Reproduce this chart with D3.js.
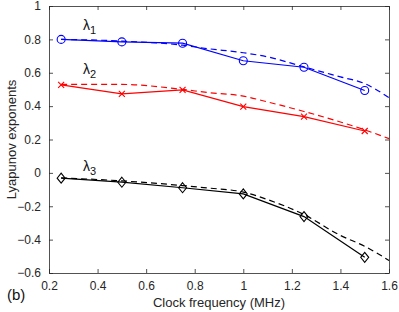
<!DOCTYPE html>
<html>
<head>
<meta charset="utf-8">
<script src="https://cdn.jsdelivr.net/npm/d3@7"></script>
<style>
  body { margin: 0; background: #fff; }
  text { font-family: "Liberation Sans", Arial, sans-serif; }
</style>
</head>
<body>
<div id="chart"></div>
<script>
/* Lyapunov exponents vs clock frequency */

const width = 399,
    height = 312,
    margin = ({ top: 6, right: 10, bottom: 39, left: 49 });

/* measured points (solid lines with markers) */
const freq = [0.25, 0.5, 0.75, 1.0, 1.25, 1.5];
const lambda1 = [0.80, 0.785, 0.777, 0.672, 0.633, 0.494];
const lambda2 = [0.527, 0.473, 0.497, 0.397, 0.337, 0.251];
const lambda3 = [-0.032, -0.056, -0.089, -0.126, -0.262, -0.506];

/* model curves (dashed) */
const freqModel = [0.25, 0.5, 0.75, 0.85, 1.0, 1.1, 1.25, 1.4, 1.5, 1.6];
const lambda1Model = [0.80, 0.79, 0.765, 0.745, 0.72, 0.695, 0.635, 0.575, 0.535, 0.45];
const lambda2Model = [0.53, 0.53, 0.50, 0.482, 0.46, 0.425, 0.368, 0.305, 0.258, 0.205];
const lambda3Model = [-0.03, -0.048, -0.076, -0.09, -0.115, -0.16, -0.25, -0.375, -0.44, -0.525];

const xTicks = [0.2, 0.4, 0.6, 0.8, 1, 1.2, 1.4, 1.6];
const yTicks = [-0.6, -0.4, -0.2, 0, 0.2, 0.4, 0.6, 0.8, 1];

const svg = d3.select("#chart")
    .append("svg")
    .attr("width", width)
    .attr("height", height);

let x = d3.scaleLinear()
    .domain([0.2, 1.6])
    .range([margin.left, width - margin.right]);

let y = d3.scaleLinear()
    .domain([-0.6, 1])
    .range([height - margin.bottom, margin.top]);

const axisColor = "#262626";
const fmt = d => d3.format("")(+d.toFixed(1));

/* bottom + left axes with labels, ticks inside */
const gx = svg.append("g")
    .attr("transform", `translate(0,${height - margin.bottom})`)
    .call(d3.axisBottom(x).tickValues(xTicks).tickSize(-4).tickSizeOuter(0).tickPadding(8).tickFormat(fmt));

const gy = svg.append("g")
    .attr("transform", `translate(${margin.left},0)`)
    .call(d3.axisLeft(y).tickValues(yTicks).tickSize(-4).tickSizeOuter(0).tickPadding(8).tickFormat(fmt));

/* top + right axes, ticks only (box on) */
const gt = svg.append("g")
    .attr("transform", `translate(0,${margin.top})`)
    .call(d3.axisTop(x).tickValues(xTicks).tickSize(-4).tickSizeOuter(0).tickFormat(""));

const gr = svg.append("g")
    .attr("transform", `translate(${width - margin.right},0)`)
    .call(d3.axisRight(y).tickValues(yTicks).tickSize(-4).tickSizeOuter(0).tickFormat(""));

for (let g of [gx, gy, gt, gr]) {
    g.selectAll("path").attr("stroke", axisColor).attr("stroke-width", 0.8);
    g.selectAll("line").attr("stroke", axisColor).attr("stroke-width", 0.8);
    g.selectAll("text").attr("fill", axisColor).attr("font-size", 12);
}

svg.append("text")
    .attr("x", x(0.9))
    .attr("y", height - 5)
    .attr("text-anchor", "middle")
    .attr("font-size", 13)
    .attr("fill", axisColor)
    .text("Clock frequency (MHz)");

svg.append("text")
    .attr("transform", `translate(16,${y(0.2)}) rotate(-90)`)
    .attr("text-anchor", "middle")
    .attr("font-size", 13)
    .attr("fill", axisColor)
    .text("Lyapunov exponents");

svg.append("text")
    .attr("x", 7)
    .attr("y", 300)
    .attr("font-size", 15)
    .attr("fill", "#111")
    .text("(b)");

/* series */
const series = [
    { vals: lambda1, model: lambda1Model, color: "#0000ff", marker: "circle", label: "1", at: 0.856 },
    { vals: lambda2, model: lambda2Model, color: "#ff0000", marker: "cross", label: "2", at: 0.593 },
    { vals: lambda3, model: lambda3Model, color: "#000000", marker: "diamond", label: "3", at: 0.011 }
];

let line = d3.line()
    .x(d => x(d[0]))
    .y(d => y(d[1]));

for (let s of series) {
    svg.append("path")
        .datum(d3.zip(freqModel, s.model))
        .attr("d", line.curve(d3.curveMonotoneX))
        .attr("fill", "none")
        .attr("stroke", s.color)
        .attr("stroke-width", 1.2)
        .attr("stroke-dasharray", "6,4");

    svg.append("path")
        .datum(d3.zip(freq, s.vals))
        .attr("d", line.curve(d3.curveLinear))
        .attr("fill", "none")
        .attr("stroke", s.color)
        .attr("stroke-width", 1.2);

    const pts = svg.append("g").selectAll("path")
        .data(d3.zip(freq, s.vals))
        .join("path")
        .attr("transform", d => `translate(${x(d[0])},${y(d[1])})`)
        .attr("fill", "none")
        .attr("stroke", s.color)
        .attr("stroke-width", 1.1);

    if (s.marker === "circle") pts.attr("d", d3.symbol(d3.symbolCircle, 50)());
    else if (s.marker === "cross") pts.attr("d", "M-3,-3L3,3M-3,3L3,-3");
    else pts.attr("d", "M0,-5L4,0L0,5L-4,0Z");

    /* lambda label with subscript */
    const t = svg.append("text")
        .attr("x", 83)
        .attr("y", y(s.at))
        .attr("font-size", 14)
        .attr("fill", "#111");
    t.append("tspan").text("λ");
    t.append("tspan").attr("font-size", 11).attr("dy", 4).text(s.label);
}
</script>
</body>
</html>
